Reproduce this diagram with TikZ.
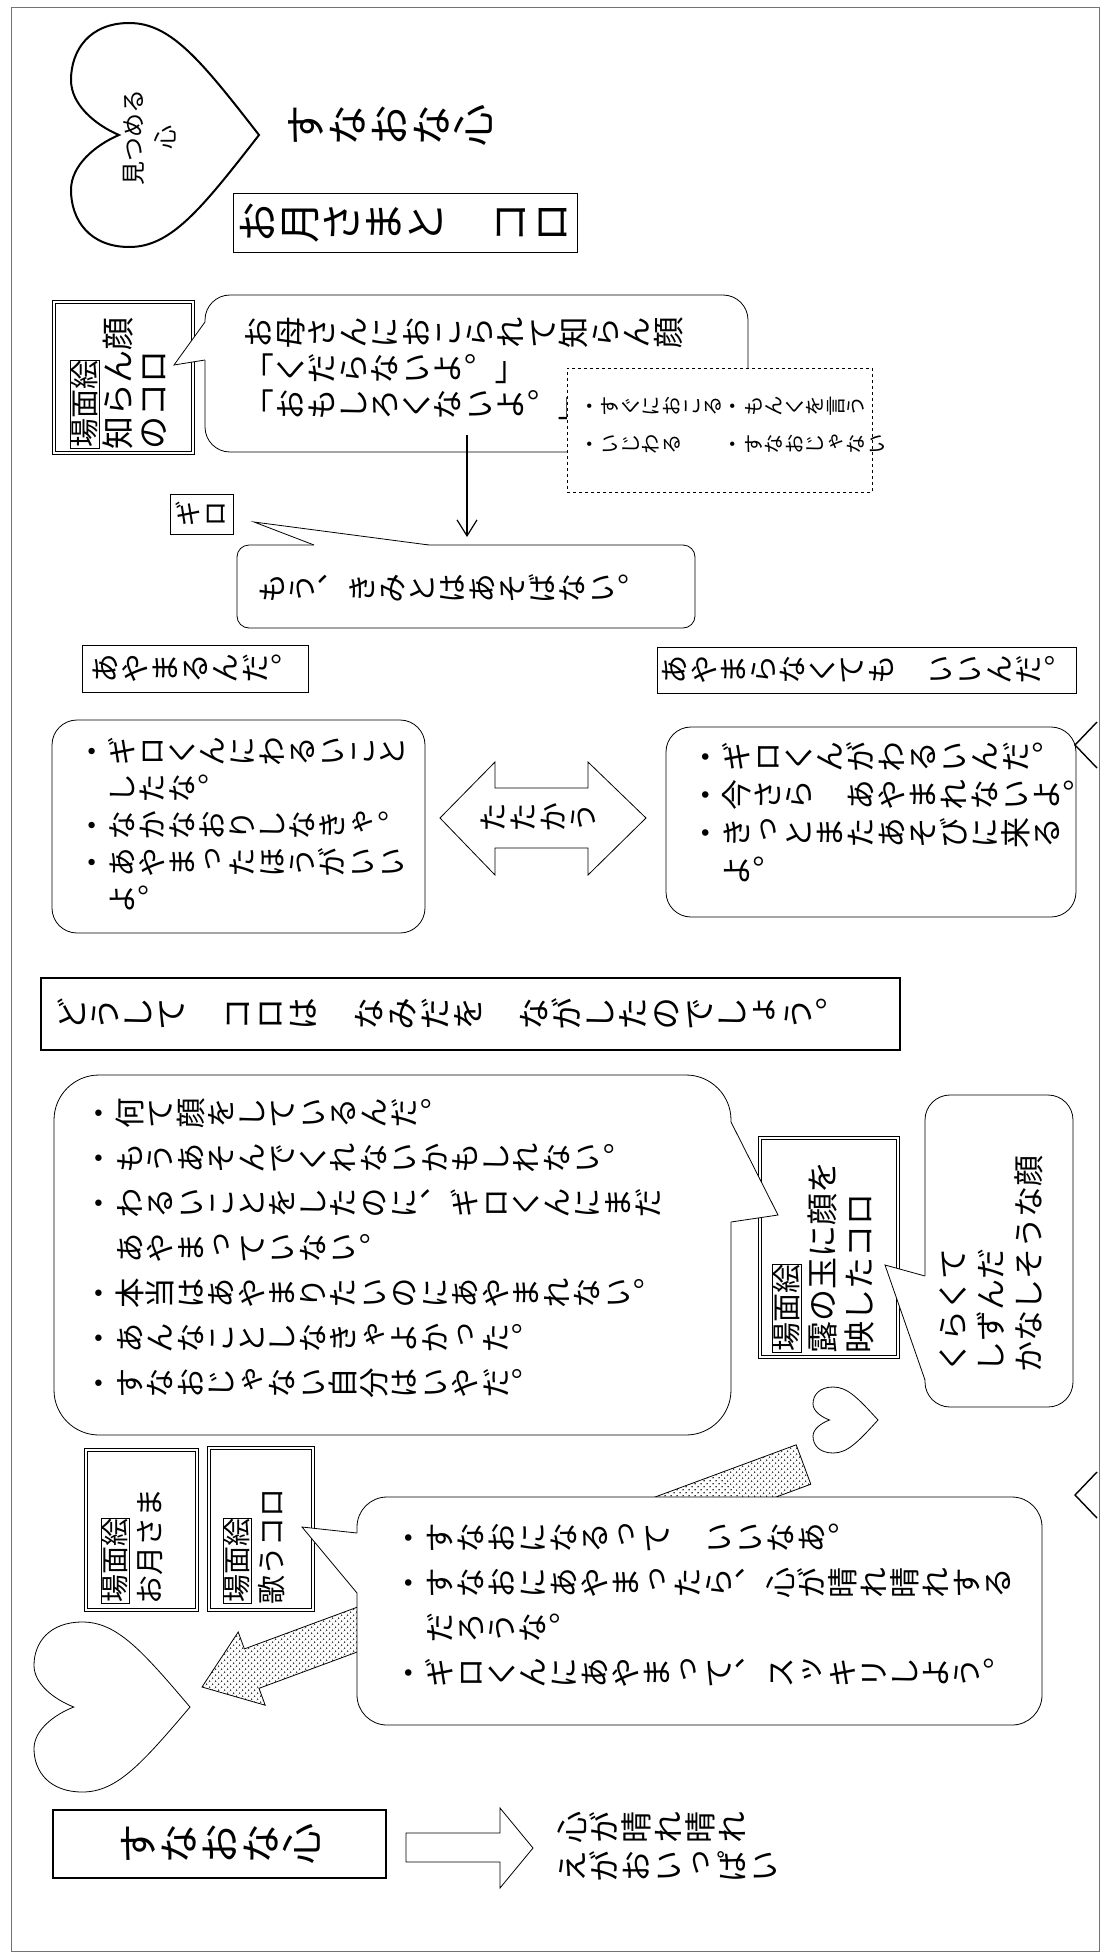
\documentclass[tikz,border=0pt]{standalone}
\usepackage{graphicx}
\usetikzlibrary{arrows.meta,patterns.meta}
\newcommand\tatefont[1]{\font\tatefnt="Noto Sans CJK JP:+vert" at #1pt\tatefnt}
\newcommand\yokofont[1]{\font\yokofnt="Noto Sans CJK JP" at #1pt\yokofnt}
\newcommand\bamen[1]{{\yokofont{#1}\setlength\fboxsep{0.5pt}\setlength\fboxrule{0.7pt}\fbox{場面絵}}}
\newcommand\tatechar[1]{\rotatebox[origin=c]{90}{\makebox[1em]{\vrule width 0pt height .88em depth .12em\relax #1}}}
\ExplSyntaxOn
\NewDocumentCommand\tc{m}{\tl_map_inline:nn{#1}{\tatechar{##1}}}
\ExplSyntaxOff
\begin{document}
\begin{tikzpicture}[x=1pt,y=-1pt,
  every node/.style={inner sep=0pt,outer sep=0pt},
  thinline/.style={line width=0.8pt},
  plainbox/.style={draw,line width=0.8pt,fill=white,anchor=north west},
  thickbox/.style={draw,line width=2.4pt,fill=white,anchor=north west},
  medbox/.style={draw,line width=1.6pt,fill=white,anchor=north west},
  dblbox/.style={draw,double,double distance=1.8pt,line width=0.8pt,fill=white,anchor=north west},
  bubble/.style={draw,line width=0.8pt,fill=white,rounded corners=#1,anchor=north west},
  dashbox/.style={draw,dashed,line width=0.8pt,fill=white,anchor=north west},
  tate/.style 2 args={font={\tatefont{#1}\baselineskip=#2pt\lineskiplimit=-1000pt\lineskip=0pt},align=left},
  yoko/.style 2 args={font={\yokofont{#1}\baselineskip=#2pt\lineskiplimit=-1000pt\lineskip=0pt},align=left,rotate=90,anchor=north west},
  heartpic/.pic={\draw[pic actions] (1,0) .. controls (0.69,-0.67) and (0.53,-1) .. (0.31,-1)
     .. controls (0.1,-1) and (0,-0.76) .. (0,-0.49) .. controls (0,-0.27) and (0.13,-0.09) .. (0.255,0)
     .. controls (0.13,0.09) and (0,0.27) .. (0,0.49) .. controls (0,0.76) and (0.1,1) .. (0.31,1)
     .. controls (0.53,1) and (0.69,0.67) .. (1,0) -- cycle;}
]
\fill[white] (0,0) rectangle (1115,1954);
\useasboundingbox (0,0) rectangle (1115,1954);
\node[draw=black!55,line width=1pt,anchor=north west,minimum width=1088pt,minimum height=1944pt] (frame) at (11,7) {};

% ---- top
\pic[line width=2pt,xscale=188,yscale=112] at (71,135) {heartpic};
\node[yoko={24}{32},align=center,anchor=center] (tHeart) at (150,137) {見つめる\\心};
\node[tate={42}{45},anchor=west] (tSunao) at (285,125) {\tc{すなおな心}};
\node[plainbox,minimum width=344pt,minimum height=59pt] (bOtsuki) at (233,193) {};
\node[tate={42}{45}] (tOtsuki) at (bOtsuki.center) {\tc{お月さまと　コロ}};

% ---- shiran kao
\node[dblbox,minimum width=139pt,minimum height=151pt] (bShiran) at (54,302) {};
\node[yoko={33}{35}] (tShiran) at (70,449) {\bamen{29}\\知らん顔\\のコロ};
\node[bubble=25pt,minimum width=543pt,minimum height=157pt] (bE) at (205,295) {};
\fill[white] (205,322) -- (174,365) -- (205,360) -- (207,360) -- (207,322) -- cycle;
\draw[thinline] (205,322) -- (174,365) -- (205,360);
\node[tate={31.5}{36},anchor=north west] (tE) at (243,317) {\tc{お母さんにおこられて知らん顔}\\\tc{「くだらないよ。」}\\\tc{「おもしろくないよ。」}};
\node[dashbox,minimum width=305pt,minimum height=124pt] (bF) at (567,368) {};
\node[tate={20.5}{38},anchor=north west] (tF) at (579,396) {\tc{・すぐにおこる・もんくを言う}\\\tc{・いじわる　　・すなおじゃない}};
\coordinate (gS) at (467,435);
\coordinate (gE) at (467,537);
\draw[line width=1.2pt,-{Straight Barb[length=16pt,width=20pt,line width=1.2pt]}] (gS) -- (gE);

% ---- giro
\node[plainbox,minimum width=63pt,minimum height=40pt] (bGiro) at (170,494) {};
\node[tate={27}{30}] (tGiro) at (bGiro.center) {\tc{ギロ}};
\node[bubble=12pt,minimum width=458pt,minimum height=83pt] (bMou) at (237,545) {};
\fill[white] (314,545) -- (254,522) -- (429,545) -- (429,547) -- (314,547) -- cycle;
\draw[thinline] (314,545) -- (254,522) -- (429,545);
\node[tate={30}{34},anchor=west] (tMou) at (257,588) {\tc{もう、きみとはあそばない。}};

% ---- ayamaru
\node[plainbox,minimum width=226pt,minimum height=47pt] (bAya1) at (82,645) {};
\node[tate={30}{34}] (tAya1) at (bAya1.center) {\tc{あやまるんだ。}};
\node[bubble=25pt,minimum width=373pt,minimum height=213pt] (bL) at (52,720) {};
\node[tate={30}{37},anchor=north west] (tL) at (77,736) {\tc{・ギロくんにわるいこと}\\\tc{　したな。}\\\tc{・なかなおりしなきゃ。}\\\tc{・あやまったほうがいい}\\\tc{　よ。}};
\draw[thinline,fill=white] (440,818) -- (495,762) -- (495,788) -- (588,788) -- (588,762) -- (646,818) -- (588,875) -- (588,848) -- (495,848) -- (495,875) -- cycle;
\node[tate={30}{34}] (tTata) at (538,817) {\tc{たたかう}};
\node[plainbox,minimum width=419pt,minimum height=46pt] (bAya2) at (657,647) {};
\node[tate={29.5}{34}] (tAya2) at (bAya2.center) {\tc{あやまらなくても　いいんだ。}};
\node[bubble=25pt,minimum width=410pt,minimum height=190pt] (bR) at (666,727) {};
\node[tate={31}{38},anchor=north west] (tR) at (690,741) {\tc{・ギロくんがわるいんだ。}\\\tc{・今さら　あやまれないよ。}\\\tc{・きっとまたあそびに来る}\\\tc{　よ。}};
\draw[line width=1.4pt] (1097,722) -- (1075,745) -- (1097,768);

% ---- title
\node[thickbox,minimum width=859pt,minimum height=72pt] (bTitle) at (41,978) {};
\node[tate={33}{36},anchor=west] (tTitle) at (55,1014) {\tc{どうして　コロは　なみだを　ながしたのでしょう。}};

% ---- big bubble
\node[dblbox,minimum width=138pt,minimum height=219pt] (bTsuyu) at (760,1138) {};
\node[yoko={32}{37}] (tTsuyu) at (772,1353) {\bamen{29}\\露の玉に顔を\\映したコロ};
\node[bubble=45pt,minimum width=677pt,minimum height=360pt] (bBig) at (54,1075) {};
\fill[white] (731,1122) -- (778,1215) -- (731,1222) -- (729,1222) -- (729,1122) -- cycle;
\draw[thinline] (731,1122) -- (778,1215) -- (731,1222);
\node[tate={30.5}{45},anchor=north west] (tBig) at (84,1098) {\tc{・何て顔をしているんだ。}\\\tc{・もうあそんでくれないかもしれない。}\\\tc{・わるいことをしたのに、ギロくんにまだ}\\\tc{　あやまっていない。}\\\tc{・本当はあやまりたいのにあやまれない。}\\\tc{・あんなことしなきゃよかった。}\\\tc{・すなおじゃない自分はいやだ。}};
\node[bubble=25pt,minimum width=148pt,minimum height=312pt] (bKurai) at (925,1095) {};
\fill[white] (925,1276) -- (885,1265) -- (925,1380) -- (927,1380) -- (927,1276) -- cycle;
\draw[thinline] (925,1276) -- (885,1265) -- (925,1380);
\node[yoko={31}{38}] (tKurai) at (940,1372) {くらくて\\しずんだ\\かなしそうな顔};
\pic[line width=0.8pt,xscale=65,yscale=33] at (813,1420) {heartpic};
\draw[line width=1.4pt] (1097,1472) -- (1075,1495) -- (1097,1518);

% ---- bottom
\draw[thinline,preaction={fill=white},pattern={Dots[distance=4pt,radius=0.9pt,angle=45]},pattern color=black!85]
  (202,1687) -- (238.2,1632) -- (244.4,1648.9) -- (796.2,1444.8) -- (810.8,1484.2) -- (259,1688.3) -- (265.2,1705.2) -- cycle;
\node[dblbox,minimum width=111pt,minimum height=160pt] (bOtsuki2) at (86,1450) {};
\node[yoko={29}{35}] (tOtsuki2) at (101,1604) {\bamen{28}\\お月さま};
\node[dblbox,minimum width=104pt,minimum height=162pt] (bUta) at (209,1448) {};
\node[yoko={29}{35}] (tUta) at (223,1604) {\bamen{28}\\歌うコロ};
\pic[line width=0.8pt,xscale=156,yscale=85] at (34,1707) {heartpic};
\node[bubble=30pt,minimum width=685pt,minimum height=228pt] (bBot) at (357,1497) {};
\fill[white] (357,1533) -- (302,1527) -- (357,1593) -- (359,1593) -- (359,1533) -- cycle;
\draw[thinline] (357,1533) -- (302,1527) -- (357,1593);
\node[tate={31}{45},anchor=north west] (tBot) at (393,1522) {\tc{・すなおになるって　いいなあ。}\\\tc{・すなおにあやまったら、心が晴れ晴れする}\\\tc{　だろうな。}\\\tc{・ギロくんにあやまって、スッキリしよう。}};
\node[medbox,minimum width=333pt,minimum height=68pt] (bSunao2) at (53,1810) {};
\node[tate={41}{45}] (tSunao2) at (bSunao2.center) {\tc{すなおな心}};
\draw[thinline,fill=white] (406,1833) -- (500,1833) -- (500,1808) -- (533,1848) -- (500,1888) -- (500,1862) -- (406,1862) -- cycle;
\node[tate={32}{39},anchor=north west] (tHare) at (556,1811) {\tc{心が晴れ晴れ}\\\tc{えがおいっぱい}};
\end{tikzpicture}
\end{document}
